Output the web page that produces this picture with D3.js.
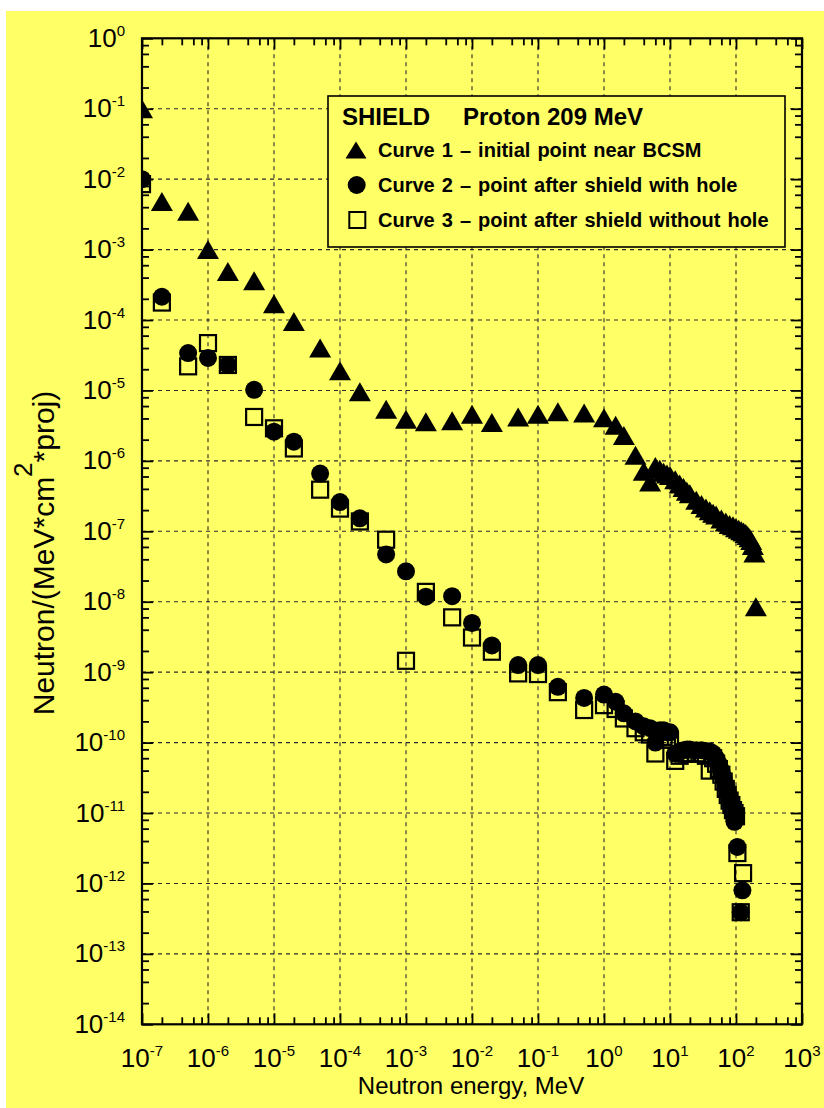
<!DOCTYPE html>
<html><head><meta charset="utf-8">
<script src="https://cdn.jsdelivr.net/npm/d3@7"></script>
<style>html,body{margin:0;padding:0;background:#fff;}svg{display:block;font-family:"Liberation Sans",Arial,sans-serif;}</style>
</head><body>
<script>
// ---- data ----
const energy1 = [1e-7,2e-7,5e-7,1e-6,2e-6,5e-6,1e-5,2e-5,5e-5,1e-4,2e-4,5e-4,1e-3,2e-3,5e-3,1e-2,2e-2,5e-2,1e-1,2e-1,5e-1,
  1,1.5,2,3,4,5,6,7,8,9,10,12,14,16,18,20,25,30,35,40,45,50,60,70,80,90,100,110,120,130,140,150,160,170,180,190,200];
const curve1 = [1.0e-1,4.8e-3,3.5e-3,1.0e-3,4.9e-4,3.6e-4,1.7e-4,9.5e-5,4.0e-5,1.9e-5,9.6e-6,5.4e-6,3.9e-6,3.6e-6,3.7e-6,4.6e-6,3.5e-6,4.2e-6,4.6e-6,5.0e-6,4.8e-6,
  4.1e-6,3.2e-6,2.3e-6,1.2e-6,7.1e-7,5.0e-7,8.3e-7,7.6e-7,6.9e-7,6.5e-7,6.2e-7,5.4e-7,4.7e-7,4.2e-7,3.7e-7,3.4e-7,2.75e-7,2.4e-7,2.15e-7,1.95e-7,1.8e-7,1.7e-7,1.5e-7,1.35e-7,1.25e-7,1.2e-7,1.12e-7,1.07e-7,1.02e-7,9.8e-8,9.3e-8,8.7e-8,8.1e-8,7.4e-8,6.3e-8,4.9e-8,8.5e-9];

const energy2 = [1e-7,2e-7,5e-7,1e-6,2e-6,5e-6,1e-5,2e-5,5e-5,1e-4,2e-4,5e-4,1e-3,2e-3,5e-3,1e-2,2e-2,5e-2,1e-1,2e-1,5e-1,
  1,1.5,2,3,4,5,6,7,8,9,10,12,14,16,18,20,25,30,35,40,45,50,55,60,65,70,75,80,85,90,95,105,125,118];
const curve2 = [1.0e-2,2.14e-4,3.4e-5,2.9e-5,2.3e-5,1.02e-5,2.6e-6,1.87e-6,6.6e-7,2.6e-7,1.53e-7,4.7e-8,2.7e-8,1.18e-8,1.2e-8,5.0e-9,2.4e-9,1.26e-9,1.26e-9,6.2e-10,4.3e-10,
  4.8e-10,3.8e-10,2.6e-10,2.0e-10,1.7e-10,1.6e-10,1.0e-10,1.5e-10,1.5e-10,1.4e-10,1.4e-10,7.0e-11,7.5e-11,7.8e-11,8.0e-11,8.0e-11,7.8e-11,7.8e-11,7.6e-11,7.5e-11,7.0e-11,6.0e-11,5.0e-11,4.0e-11,3.2e-11,2.5e-11,2.0e-11,1.6e-11,1.3e-11,1.05e-11,7.5e-12,3.3e-12,8.0e-13,3.9e-13];

const energy3 = [1e-7,2e-7,5e-7,1e-6,2e-6,5e-6,1e-5,2e-5,5e-5,1e-4,2e-4,5e-4,1e-3,2e-3,5e-3,1e-2,2e-2,5e-2,1e-1,2e-1,5e-1,
  1,1.5,2,3,4,5,6,7,8,9,10,12,14,16,18,20,25,30,35,40,45,50,55,60,65,70,75,80,85,90,95,100,105,128,118];
const curve3 = [8.5e-3,1.77e-4,2.2e-5,4.7e-5,2.3e-5,4.2e-6,2.9e-6,1.5e-6,3.9e-7,2.1e-7,1.38e-7,7.6e-8,1.45e-9,1.38e-8,6.0e-9,3.1e-9,1.95e-9,9.6e-10,9.4e-10,5.2e-10,2.9e-10,
  3.4e-10,3.0e-10,2.2e-10,1.6e-10,1.4e-10,1.3e-10,7.0e-11,1.2e-10,1.2e-10,1.1e-10,1.1e-10,5.5e-11,6.5e-11,7.0e-11,7.0e-11,7.0e-11,7.0e-11,7.0e-11,6.5e-11,4.0e-11,6.0e-11,5.0e-11,4.2e-11,3.5e-11,2.8e-11,2.2e-11,1.8e-11,1.5e-11,1.3e-11,1.1e-11,1.0e-11,9.0e-12,2.7e-12,1.4e-12,3.9e-13];

const xMajor = [1e-7,1e-6,1e-5,1e-4,1e-3,1e-2,1e-1,1,1e1,1e2,1e3];
const xExp = ["-7","-6","-5","-4","-3","-2","-1","0","1","2","3"];
const yMajor = [1,1e-1,1e-2,1e-3,1e-4,1e-5,1e-6,1e-7,1e-8,1e-9,1e-10,1e-11,1e-12,1e-13,1e-14];
const yExp = ["0","-1","-2","-3","-4","-5","-6","-7","-8","-9","-10","-11","-12","-13","-14"];
const minorMult = [2,4,6,8];

const legendTitle = ["SHIELD","Proton 209 MeV"];
const legendLabels = ["Curve 1 \u2013 initial point near BCSM","Curve 2 \u2013 point after shield with hole","Curve 3 \u2013 point after shield without hole"];
const xTitle = "Neutron energy, MeV";

// ---- layout ----
const W = 824, H = 1108;
const L = 142, R = 802, T = 38.3, B = 1024.3;
const YEL = "#ffff66";

const svg = d3.select("body").append("svg").attr("width", W).attr("height", H);
svg.append("rect").attr("x", 6).attr("y", 11).attr("width", W - 6).attr("height", H - 11).attr("fill", YEL);

const x = d3.scaleLog().domain([1e-7, 1e3]).range([L, R]);
const y = d3.scaleLog().domain([1e-14, 1]).range([B, T]);

const minorsOf = (majors) => {
  const out = [];
  majors.forEach(m => minorMult.forEach(k => out.push(m * k)));
  return out;
};
const xMinor = minorsOf(xMajor.slice(0, -1));
const yMinor = minorsOf(yMajor.slice(1));

// grid
const grid = svg.append("g").attr("stroke", "#2a2a2a").attr("stroke-width", 1.1).attr("stroke-dasharray", "4,4");
xMajor.slice(1, -1).forEach(v => grid.append("line").attr("x1", x(v)).attr("x2", x(v)).attr("y1", T).attr("y2", B));
yMajor.slice(1, -1).forEach(v => grid.append("line").attr("y1", y(v)).attr("y2", y(v)).attr("x1", L).attr("x2", R));

// axes ticks
function drawAxis(axisFn, scale, transform, values, size) {
  const g = svg.append("g").attr("transform", transform)
    .call(axisFn(scale).tickValues(values).tickSize(-size).tickFormat(""));
  g.select(".domain").remove();
  g.selectAll("line").attr("stroke", "#000").attr("stroke-width", 1.8);
}
[[d3.axisBottom, x, `translate(0,${B})`], [d3.axisTop, x, `translate(0,${T})`]].forEach(([f, s, t]) => {
  drawAxis(f, s, t, xMajor, 11); drawAxis(f, s, t, xMinor, 7);
});
[[d3.axisLeft, y, `translate(${L},0)`], [d3.axisRight, y, `translate(${R},0)`]].forEach(([f, s, t]) => {
  drawAxis(f, s, t, yMajor, 11); drawAxis(f, s, t, yMinor, 7);
});
svg.append("rect").attr("x", L).attr("y", T).attr("width", R - L).attr("height", B - T)
  .attr("fill", "none").attr("stroke", "#000").attr("stroke-width", 2.2);

// tick labels
xMajor.forEach((v, i) => {
  const t = svg.append("text").attr("x", x(v)).attr("y", 1066.7).attr("text-anchor", "middle")
    .attr("font-size", 26).attr("fill", "#000");
  t.append("tspan").text("10");
  t.append("tspan").attr("dy", -11).attr("font-size", 15).text(xExp[i]);
});
yMajor.forEach((v, i) => {
  const t = svg.append("text").attr("x", 125).attr("y", y(v) + 8.5).attr("text-anchor", "end")
    .attr("font-size", 26).attr("fill", "#000");
  t.append("tspan").text("10");
  t.append("tspan").attr("dy", -11).attr("font-size", 15).text(yExp[i]);
});

// axis titles
svg.append("text").attr("x", 471).attr("y", 1094).attr("text-anchor", "middle").attr("font-size", 24).text(xTitle);
const yt = svg.append("text").attr("transform", "translate(54,553) rotate(-90)").attr("text-anchor", "middle").attr("font-size", 30);
yt.append("tspan").text("Neutron/(MeV*cm");
yt.append("tspan").attr("dy", -22).attr("font-size", 26).text("2");
yt.append("tspan").attr("dy", 22).text("*proj)");

// markers
const triPath = (cx, cy, w = 22, h = 19) => `M${cx},${cy - h / 2}L${cx + w / 2},${cy + h / 2}L${cx - w / 2},${cy + h / 2}Z`;
svg.append("clipPath").attr("id", "plotclip").append("rect").attr("x", L).attr("y", T).attr("width", R - L).attr("height", B - T);
const plot = svg.append("g").attr("clip-path", "url(#plotclip)");

const sq = 16;
plot.append("g").selectAll("rect").data(energy3.map((e, i) => [e, curve3[i]])).join("rect")
  .attr("x", d => x(d[0]) - sq / 2).attr("y", d => y(d[1]) - sq / 2).attr("width", sq).attr("height", sq)
  .attr("fill", "none").attr("stroke", "#000").attr("stroke-width", 2.2);
plot.append("g").selectAll("circle").data(energy2.map((e, i) => [e, curve2[i]])).join("circle")
  .attr("cx", d => x(d[0])).attr("cy", d => y(d[1])).attr("r", 9).attr("fill", "#000");
plot.append("g").selectAll("path").data(energy1.map((e, i) => [e, curve1[i]])).join("path")
  .attr("d", d => triPath(x(d[0]), y(d[1]))).attr("fill", "#000");

// legend
const lg = svg.append("g");
lg.append("rect").attr("x", 328).attr("y", 96).attr("width", 457).attr("height", 151)
  .attr("fill", YEL).attr("stroke", "#000").attr("stroke-width", 1.6);
lg.append("text").attr("x", 342).attr("y", 125).attr("font-size", 24).attr("font-weight", "bold").text(legendTitle[0]);
lg.append("text").attr("x", 463).attr("y", 125).attr("font-size", 24).attr("font-weight", "bold").text(legendTitle[1]);
const rowsY = [157, 192, 227];
legendLabels.forEach((s, i) => {
  lg.append("text").attr("x", 378).attr("y", rowsY[i]).attr("font-size", 20).attr("font-weight", "bold")
    .attr("word-spacing", 1.5).text(s);
});
lg.append("path").attr("d", triPath(356, 150, 21, 17)).attr("fill", "#000");
lg.append("circle").attr("cx", 356.7).attr("cy", 185).attr("r", 9).attr("fill", "#000");
lg.append("rect").attr("x", 357.3 - 8).attr("y", 220 - 8).attr("width", 16).attr("height", 16)
  .attr("fill", "none").attr("stroke", "#000").attr("stroke-width", 2);
</script>
</body></html>
